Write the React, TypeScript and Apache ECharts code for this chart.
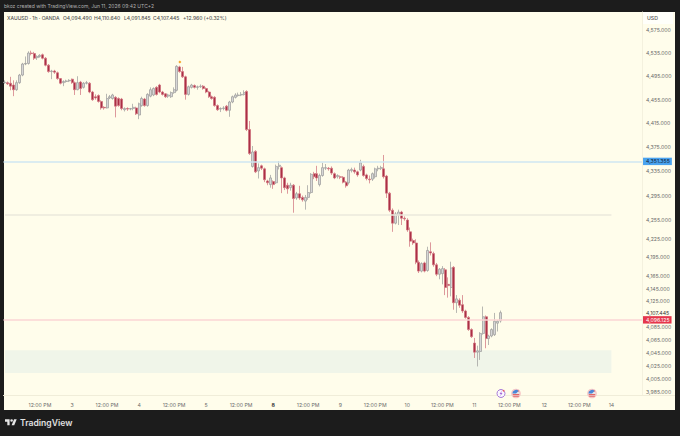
import React, { useEffect, useRef } from "react";
import * as echarts from "echarts";

// [open, close, low, high]
const candles: number[][] = [
  [4484,4485,4482,4488],[4484,4482,4480,4486],[4483,4478,4471,4494],[4480,4472,4461,4488],[4472,4484,4470,4488],
  [4484,4497,4482,4499],[4497,4516,4495,4518],[4516,4517,4514,4529],[4517,4535,4515,4538],[4535,4534,4531,4539],
  [4534,4526,4523,4537],[4527,4529,4523,4531],[4529,4531,4527,4533],[4532,4526,4524,4534],[4526,4514,4512,4528],
  [4514,4503,4501,4516],[4503,4504,4490,4506],[4504,4502,4499,4506],[4501,4491,4489,4503],[4491,4483,4481,4492],
  [4484,4486,4478,4488],[4486,4487,4484,4489],[4487,4488,4485,4490],[4490,4484,4482,4491],[4484,4472,4463,4486],
  [4472,4484,4471,4495],[4485,4474,4463,4487],[4476,4483,4474,4485],[4483,4484,4481,4487],[4483,4468,4466,4485],
  [4468,4455,4453,4470],[4460,4458,4455,4464],[4462,4452,4450,4464],[4452,4441,4438,4454],[4442,4441,4438,4444],
  [4441,4457,4440,4465],[4458,4460,4456,4463],[4457,4463,4455,4465],[4459,4444,4425,4461],[4457,4445,4443,4459],
  [4456,4440,4437,4458],[4438,4440,4435,4442],[4440,4439,4436,4442],[4439,4440,4437,4441],[4440,4442,4437,4448],
  [4441,4431,4429,4443],[4429,4448,4422,4450],[4445,4457,4443,4460],[4456,4445,4443,4458],[4445,4464,4443,4466],
  [4461,4472,4459,4476],[4463,4474,4461,4476],[4476,4464,4462,4478],[4480,4468,4466,4482],[4468,4464,4462,4470],
  [4465,4460,4458,4466],[4461,4463,4458,4465],[4460,4467,4458,4469],[4467,4472,4465,4476],[4471,4512,4469,4514],
  [4511,4503,4501,4513],[4503,4494,4492,4511],[4494,4464,4455,4496],[4464,4477,4462,4479],[4476,4480,4474,4482],
  [4479,4476,4474,4481],[4476,4477,4472,4479],[4477,4478,4475,4481],[4478,4474,4472,4480],[4474,4468,4466,4476],
  [4468,4460,4458,4470],[4460,4457,4455,4462],[4459,4445,4443,4461],[4445,4438,4436,4447],[4439,4440,4434,4442],
  [4440,4441,4437,4444],[4444,4437,4435,4446],[4437,4451,4426,4453],[4451,4460,4449,4462],[4459,4463,4457,4466],
  [4462,4463,4460,4467],[4463,4464,4461,4468],[4464,4467,4462,4471],[4469,4404.5,4402,4471],[4404.5,4364.5,4362,4419],
  [4343,4367,4341,4377],[4368,4334,4332,4370],[4335.5,4341,4323,4348],[4344,4340,4337,4346],[4339,4321,4317,4341],
  [4319,4316,4312,4321],[4313,4324,4308,4329],[4318,4313,4306,4320],[4316,4343,4314,4346],[4343,4345,4338,4352],
  [4341,4324,4299,4343],[4324,4308,4304,4326],[4312,4306,4298,4316],[4308,4312,4303,4316],[4312,4290,4267,4314],
  [4291,4298,4288,4301],[4298,4291,4288,4311],[4292,4288,4285,4295],[4286,4292,4272,4296],[4292,4300,4288,4312],
  [4300,4330,4298,4332],[4331,4326,4322,4334],[4331,4324,4319,4344],[4313,4328,4310,4331],[4328,4341,4326,4349],
  [4340,4341,4337,4347],[4340,4339,4336,4342],[4340,4332,4329,4343],[4331,4324,4322,4333],[4326,4328,4323,4330],
  [4326,4325,4322,4328],[4325,4317,4315,4327],[4317,4311,4308,4319],[4316,4337,4313,4339],[4336,4338,4333,4341],
  [4337,4334,4331,4341],[4334,4329,4326,4336],[4337,4349,4335,4354],[4343,4328,4326,4346],[4329,4323,4320,4331],
  [4322,4321,4315,4328],[4322,4331,4319,4333],[4326,4339,4323,4341],[4339,4340,4335,4344],[4340,4341,4337,4344],
  [4339,4326,4323,4362],[4327,4299,4291,4329],[4299,4271,4268,4301],[4271,4250,4236,4274],[4250,4265,4248,4268],
  [4263,4268,4247,4272],[4268,4258,4247,4270],[4258,4257,4254,4261],[4255,4239,4236,4258],[4236,4221,4212,4243],
  [4222,4218,4215,4225],[4218,4187,4184,4224],[4187,4173,4170,4190],[4173,4185,4171,4187],[4186,4173,4171,4188],
  [4174,4206,4172,4212],[4204,4202,4198,4219],[4201,4183,4180,4204],[4183,4168,4165,4186],[4168,4176,4160,4178],
  [4169,4177,4152,4181],[4175,4147,4135,4178],[4152,4150,4131,4163],[4147,4178,4133,4188],[4179,4123,4112,4181],
  [4123,4129,4107,4135],[4127,4119,4115,4130],[4120,4110,4107,4135],[4110,4100,4098,4112],[4100,4081,4079,4102],
  [4081,4070,4068,4083],[4060,4046,4037,4068],[4046,4048,4024,4056],[4047,4075,4034,4077],[4075,4101,4073,4117],
  [4101,4067,4052,4103],[4067,4071,4057,4073],[4071,4081,4069,4083],[4073,4094,4071,4107],[4091,4094,4078,4096],
  [4094.49,4107.445,4091.845,4110.64],
];

const slotCount = 219;
const timeTicks: [number, string][] = [
  [12,"12:00 PM"],[23,"3"],[35,"12:00 PM"],[46,"4"],[58,"12:00 PM"],[69,"5"],[81,"12:00 PM"],[92,"8"],[104,"12:00 PM"],
  [115,"9"],[127,"12:00 PM"],[138,"10"],[150,"12:00 PM"],[161,"11"],[173,"12:00 PM"],[185,"12"],[197,"12:00 PM"],[208,"14"],
];
const categories: string[] = Array.from({ length: slotCount }, () => "");
timeTicks.forEach(([i, t]) => { categories[i] = t; });

const priceTicks = [4575,4535,4495,4455,4415,4375,4335,4295,4255,4225,4195,4165,4145,4125,4085,4065,4045,4025,4005,3985];
const blueLevel = 4351.355;
const greyLevel = 4263;
const redLevel = 4096.125;
const lastClose = 4107.445;
const zoneTop = 4049;
const zoneBottom = 4014;
const levelEndIndex = 208;
const peakMarker = { index: 60, price: 4519.5 };

const fmt = (v: number) => v.toLocaleString("en-US", { minimumFractionDigits: 3, maximumFractionDigits: 3 });

const FONT = "Inter";
const CARD = "#fffdeb";
const AXIS_SIZE = 5.2;

echarts.graphic.registerShape(
  "tvLogo",
  echarts.graphic.extendPath("M14 22H7V11H0V4h14zM28 22h-8l7.5-18h8zM24 7.5a4 4 0 1 1-8 0a4 4 0 1 1 8 0z", {}) as any
);

const headerBits: [number, string][] = [
  [7, "XAUUSD · 1h · OANDA"],
  [63, "O4,094.490"],
  [94, "H4,110.640"],
  [124, "L4,091.845"],
  [153, "C4,107.445"],
  [183, "+12.960 (+0.32%)"],
];

function flag(x: number, y: number) {
  return {
    type: "group", x, y, z: 5,
    children: [
      { type: "circle", shape: { cx: 0, cy: 0, r: 4.8 }, style: { fill: "#f6c4c4" }, z: 5 },
      { type: "circle", shape: { cx: 0, cy: 0, r: 3.6 }, style: { fill: "#e8e4e4" }, z: 5 },
      { type: "rect", shape: { x: -3.2, y: 0.6, width: 6.4, height: 1 }, style: { fill: "#e25a5a" }, z: 6 },
      { type: "rect", shape: { x: -2.8, y: 2.2, width: 5.6, height: 1 }, style: { fill: "#e25a5a" }, z: 6 },
      { type: "sector", shape: { cx: 0, cy: 0, r0: 0, r: 3.6, startAngle: Math.PI, endAngle: Math.PI * 1.75 }, style: { fill: "#4a86d8" }, z: 7 },
      { type: "rect", shape: { x: 0, y: -3, width: 3, height: 1 }, style: { fill: "#e25a5a" }, z: 6 },
    ],
  };
}

export default function App() {
  const ref = useRef<HTMLDivElement>(null);
  useEffect(() => {
    const chart = echarts.init(ref.current!, undefined, { renderer: "svg" });
    const tickLine = (v: number, color = "#6a6a6a") => ({
      yAxis: v,
      lineStyle: { color: "rgba(0,0,0,0)", width: 0 },
      label: { show: true, position: "end", formatter: fmt(v), color, fontFamily: FONT, fontSize: AXIS_SIZE, distance: 4 },
    });
    chart.setOption({
      animation: false,
      backgroundColor: "#1c1c1c",
      grid: { left: 3.5, top: 12, width: 638.5, height: 383, containLabel: false },
      xAxis: {
        type: "category",
        data: categories,
        axisLine: { show: true, lineStyle: { color: "#f0edd9", width: 1 } },
        axisTick: { show: false },
        splitLine: { show: false },
        axisLabel: {
          interval: (_i: number, v: string) => v !== "",
          hideOverlap: false,
          color: "#6a6a6a",
          fontFamily: FONT,
          fontSize: AXIS_SIZE,
          margin: 7,
          formatter: (v: string) => (v === "8" ? "{b|8}" : v),
          rich: { b: { fontWeight: 700, color: "#333", fontFamily: FONT, fontSize: AXIS_SIZE } },
        },
      },
      yAxis: {
        type: "log",
        logBase: 10,
        min: 3980.4,
        max: 4606.5,
        position: "right",
        axisLine: { show: true, onZero: false, lineStyle: { color: "#f4f1de", width: 1 } },
        axisTick: { show: false },
        axisLabel: { show: false },
        splitLine: { show: false },
        minorTick: { show: false },
      },
      graphic: [
        { type: "rect", z: -20, shape: { x: 4, y: 12, width: 671, height: 398 }, style: { fill: CARD } },
        { type: "rect", z: 1, shape: { x: 643, y: 12, width: 30, height: 12 }, style: { fill: "#fffffa" } },
        { type: "line", z: 1, shape: { x1: 642, y1: 395.5, x2: 675, y2: 395.5 }, style: { stroke: "#f0edd9", lineWidth: 1 } },
        { type: "text", z: 3, x: 647, y: 15, style: { text: "USD", fill: "#555", font: `500 ${AXIS_SIZE}px ${FONT}` } },
        { type: "text", z: 3, x: 4, y: 3.5, style: { text: "bkoz created with TradingView.com, Jun 11, 2026 09:42 UTC+2", fill: "#b0b0b0", font: `5px ${FONT}` } },
        ...headerBits.map(([x, t]) => ({ type: "text", z: 3, x, y: 15.5, style: { text: t, fill: "#555", font: `500 5px ${FONT}` } })),
        { type: "tvLogo", z: 3, x: 5, y: 418, scaleX: 0.33, scaleY: 0.33, style: { fill: "#e6e6e6" } },
        { type: "text", z: 3, x: 20, y: 418.5, style: { text: "TradingView", fill: "#e0e0e0", font: `600 8.6px ${FONT}` } },
        { type: "circle", z: 5, shape: { cx: 501, cy: 393.5, r: 4 }, style: { fill: "#fbf7ff", stroke: "#a77bd8", lineWidth: 1 } },
        { type: "polygon", z: 6, shape: { points: [[501.8, 390.8], [499.6, 394], [500.9, 394], [500.2, 396.2], [502.5, 393], [501.2, 393]] }, style: { fill: "#a268d8" } },
        { type: "circle", z: 7, shape: { cx: 503.6, cy: 390.8, r: 0.9 }, style: { fill: "#e85a6a" } },
        flag(516, 393.5),
        flag(592, 393.5),
      ],
      series: [
        {
          type: "candlestick",
          clip: false,
          barWidth: 2.5,
          data: candles,
          itemStyle: {
            color: "#d6d6d6",
            color0: "#aa3045",
            borderColor: "#9a9a9a",
            borderColor0: "#cf6d7a",
            borderWidth: 0.7,
          },
          markArea: {
            silent: true,
            itemStyle: { color: "#f0f5e9" },
            label: { show: false },
            data: [[{ coord: [0, zoneTop] }, { coord: [levelEndIndex, zoneBottom] }]],
          },
          markPoint: {
            silent: true,
            symbol: "diamond",
            symbolSize: 3,
            itemStyle: { color: "#f5a623" },
            label: { show: false },
            data: [{ coord: [peakMarker.index, peakMarker.price] }],
          },
          markLine: {
            silent: true,
            symbol: "none",
            lineStyle: { type: "solid", width: 1 },
            data: [
              ...priceTicks.map((v) => tickLine(v)),
              tickLine(lastClose, "#333"),
              {
                yAxis: blueLevel,
                lineStyle: { color: "#cfe6f2", type: "solid", width: 1.5 },
                label: { show: true, position: "end", formatter: fmt(blueLevel), color: "#123", backgroundColor: "#4aa3f0", padding: [1.2, 2, 1.2, 3], fontFamily: FONT, fontSize: AXIS_SIZE, distance: 1 },
              },
              {
                yAxis: redLevel,
                lineStyle: { color: "#fbd4d4", type: "solid", width: 1.5 },
                label: { show: true, position: "end", formatter: fmt(redLevel), color: "#fff", backgroundColor: "#e5364c", padding: [1.2, 2, 1.2, 3], fontFamily: FONT, fontSize: AXIS_SIZE, distance: 1 },
              },
              [
                { coord: [0, greyLevel], lineStyle: { color: "#ebe8dc", type: "solid", width: 1.5 }, label: { show: false } },
                { coord: [levelEndIndex, greyLevel] },
              ],
            ],
          },
        },
      ],
    });
    return () => chart.dispose();
  }, []);
  return <div ref={ref} style={{ position: "fixed", left: 0, top: 0, width: 680, height: 436 }} />;
}
